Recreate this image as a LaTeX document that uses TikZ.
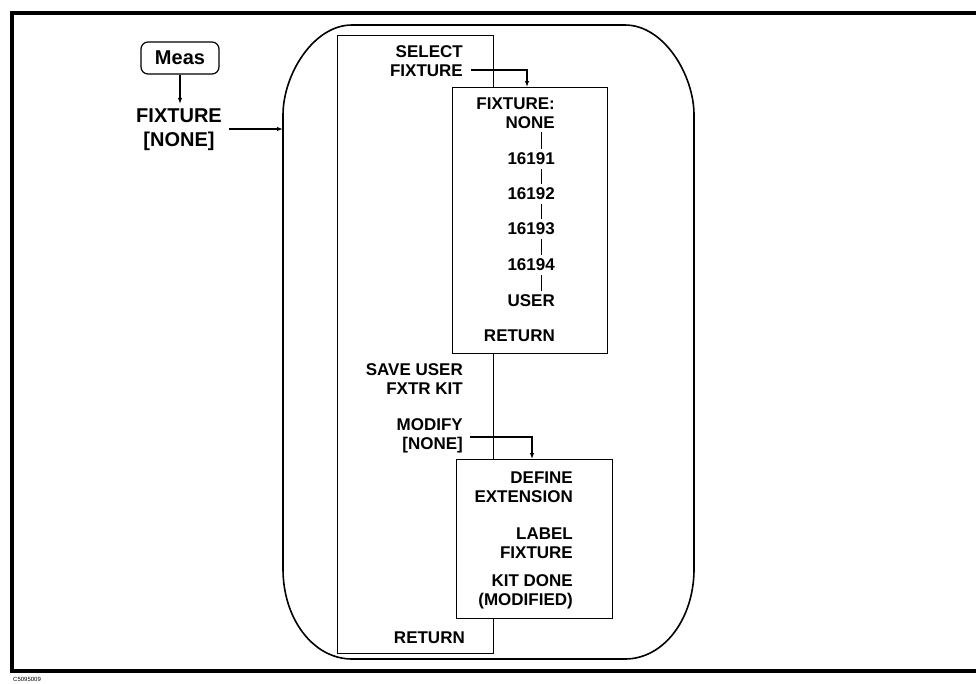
\documentclass[tikz,border=0pt]{standalone}
\usepackage{fontspec}
\setmainfont{Liberation Sans}
\usetikzlibrary{arrows.meta}
\tikzset{
  lbl/.style={font=\bfseries\fontsize{17}{18.5}\selectfont, inner sep=0pt, align=right, anchor=east},
  biglbl/.style={font=\bfseries\fontsize{20}{24}\selectfont, inner sep=0pt, align=center},
  menubox/.style={draw, line width=1.2pt, fill=white, inner sep=0pt, anchor=north west},
  arr/.style={-{Latex[length=6pt,width=4.5pt]}, line width=1.1pt},
  conn/.style={line width=1pt},
}
\begin{document}
\begin{tikzpicture}[x=1pt,y=-1pt]
\useasboundingbox (0,0) rectangle (976,683);
% outer frame
\draw[line width=3.5pt] (977,13) -- (12,13) -- (12,671) -- (977,671);
\node[anchor=north west, inner sep=0pt, font=\fontsize{6}{7}\selectfont] (code) at (13,677) {C5095009};
% big rounded box
\draw[line width=1.6pt] (352,25) -- (625,25) .. controls (663.7,25) and (694,74.7) .. (694,115)
  -- (694,569) .. controls (694,619) and (663.7,659) .. (625,659)
  -- (352,659) .. controls (313.3,659) and (283,619) .. (283,569)
  -- (283,115) .. controls (283,74.7) and (313.3,25) .. cycle;
\coordinate (bigL) at (283,129);
% Meas key and FIXTURE softkey
\node[draw, rounded corners=7pt, line width=1.2pt, minimum width=78pt, minimum height=32pt,
  inner sep=0pt, font=\bfseries\fontsize{20}{24}\selectfont] (meas) at (180,58) {Meas};
\node[biglbl] (fx) at (179,130) {FIXTURE\\{[NONE]}};
\draw[arr] (meas.south) -- ([yshift=5pt]fx.north -| meas.south);
\draw[arr] ([xshift=7pt,yshift=1pt]fx.east) -- ([yshift=1pt]fx.east -| bigL);
% menu column
\node[draw, line width=1.2pt, inner sep=0pt, minimum width=156pt, minimum height=618pt, anchor=north west] (col) at (337,35) {};
% submenu boxes
\node[menubox, minimum width=155pt, minimum height=266pt] (sub1) at (452,87) {};
\node[menubox, minimum width=156pt, minimum height=159pt] (def) at (456,459) {};
% column labels
\node[lbl] (sel) at (463,61) {SELECT\\FIXTURE};
\node[lbl] (save) at (463,379) {SAVE USER\\FXTR KIT};
\node[lbl] (mod) at (463,436) {MODIFY\\{[NONE]}};
\node[lbl] (ret) at (465,638) {RETURN};
\draw[arr] ([xshift=8pt,yshift=-9pt]sel.east) -| ([xshift=75pt]sub1.north west);
\draw[arr] ([xshift=7pt,yshift=-1pt]mod.east) -| ([xshift=76pt]def.north west);
% fixture submenu
\coordinate (cx) at (541,0);
\node[lbl] (fxn) at (555,113) {FIXTURE:\\NONE};
\node[lbl] (f1) at (555,159) {16191};
\node[lbl] (f2) at (555,194) {16192};
\node[lbl] (f3) at (555,229) {16193};
\node[lbl] (f4) at (555,265) {16194};
\node[lbl] (fu) at (555,301) {USER};
\node[lbl] (fr) at (555,336) {RETURN};
\draw[conn] ([yshift=-4pt]fxn.south -| cx) -- ([yshift=4pt]f1.north -| cx);
\draw[conn] ([yshift=-4pt]f1.south -| cx) -- ([yshift=4pt]f2.north -| cx);
\draw[conn] ([yshift=-4pt]f2.south -| cx) -- ([yshift=4pt]f3.north -| cx);
\draw[conn] ([yshift=-4pt]f3.south -| cx) -- ([yshift=4pt]f4.north -| cx);
\draw[conn] ([yshift=-4pt]f4.south -| cx) -- ([yshift=4pt]fu.north -| cx);
% modify submenu
\node[lbl] (d1) at (573,487) {DEFINE\\EXTENSION};
\node[lbl] (d2) at (573,543) {LABEL\\FIXTURE};
\node[lbl] (d3) at (573,592) {KIT DONE\\(MODIFIED)};
\end{tikzpicture}
\end{document}
